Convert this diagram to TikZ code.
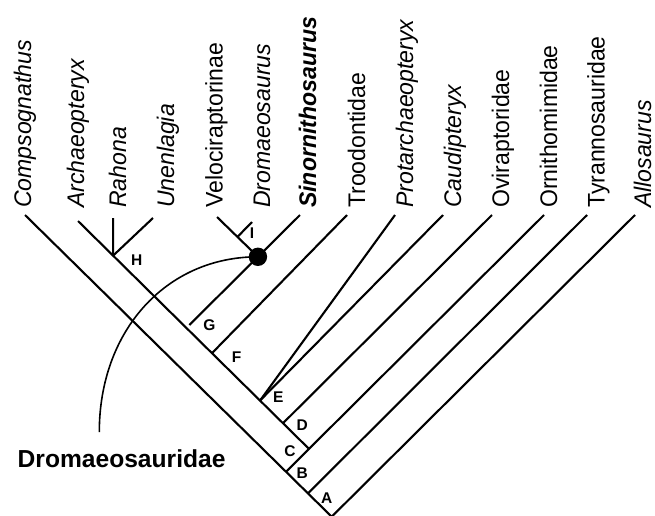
\documentclass[tikz,border=0pt]{standalone}
\usepackage{fontspec}
\setmainfont{Liberation Sans}
\usepackage{graphicx}
\usetikzlibrary{calc}
\newcommand\txlab[1]{\scalebox{0.96}[1]{#1}}
\tikzset{
  br/.style={line width=2.1pt},
  arcline/.style={line width=1.6pt},
  taxon/.style={rotate=90, anchor=base west, inner sep=0pt, font=\fontsize{24}{24}\selectfont},
  clade/.style={font=\bfseries\fontsize{15.5}{15.5}\selectfont, inner sep=0pt},
  group/.style={font=\bfseries\fontsize{24.6}{25}\selectfont, anchor=base west, inner sep=0pt},
}
\begin{document}
\begin{tikzpicture}[x=1pt,y=-1pt]
\useasboundingbox (0,0) rectangle (655,515);
% tips
\coordinate (R) at (331.7,516.7);
\coordinate (tComp) at (25,215);
\coordinate (tArch) at (78,221);
\coordinate (tRah) at (113.1,218);
\coordinate (tUnen) at (153,218);
\coordinate (tVel) at (217,217);
\coordinate (tDro) at (252,222);
\coordinate (tSino) at (300,215);
\coordinate (tTroo) at (347,215);
\coordinate (tProt) at (395,215);
\coordinate (tCaud) at (443,215);
\coordinate (tOvi) at (492,215);
\coordinate (tOrn) at (544,215);
\coordinate (tTyr) at (587,215);
\coordinate (tAllo) at (635,215);
% outer stem
\draw[br] (tComp) -- (R) -- (tAllo);
\coordinate (B) at ($(R)!0.0773!(tComp)$);
\coordinate (C) at ($(R)!0.149!(tComp)$);
\draw[br] (B) -- (tTyr);
\draw[br] (C) -- (tOrn);
% inner stem
\coordinate (K) at ($(C)!0.0891!(tOrn)$);
\draw[br] (K) -- (tArch);
\coordinate (D) at ($(K)!0.1126!(tArch)$);
\coordinate (E) at ($(K)!0.212!(tArch)$);
\coordinate (F) at ($(K)!0.42!(tArch)$);
\coordinate (H) at ($(K)!0.848!(tArch)$);
\draw[br] (D) -- (tOvi);
\draw[br] (E) -- (tCaud);
\draw[br] (E) -- (tProt);
\draw[br] (F) -- (tTroo);
\draw[br] (H) -- (tRah);
\draw[br] (H) -- (tUnen);
% Dromaeosauridae
\coordinate (Gs) at (189.3,325);
\draw[br] (Gs) -- (tSino);
\coordinate (O) at ($(Gs)!0.62!(tSino)$);
\draw[br] (O) -- (tVel);
\coordinate (I) at ($(O)!0.5!(tVel)$);
\draw[br] (I) -- (tDro);
\coordinate (arcend) at (99.3,432);
\draw[arcline] (O) .. controls ($(O)+(-92,0)$) and ($(arcend)+(0,-101)$) .. (arcend);
\fill (O) circle[radius=9.2];
% clade letters
\node[clade] (lA) at (326.7,498.3) {A};
\node[clade] (lB) at (302.3,472.7) {B};
\node[clade] (lC) at (290,450.7) {C};
\node[clade] (lD) at (302.3,425) {D};
\node[clade] (lE) at (278.3,396.7) {E};
\node[clade] (lF) at (236.7,356.7) {F};
\node[clade] (lG) at (209.3,325) {G};
\node[clade] (lH) at (136.7,260) {H};
\node[clade] (lI) at (252,233) {I};
% taxa
\node[taxon] (nComp) at (31,208) {\txlab{\itshape Compsognathus}};
\node[taxon] (nArch) at (84,208) {\txlab{\itshape Archaeopteryx}};
\node[taxon] (nRah) at (126,208) {\txlab{\itshape Rahona}};
\node[taxon] (nUnen) at (174,208) {\txlab{\itshape Unenlagia}};
\node[taxon] (nVel) at (222.5,208) {\txlab{Velociraptorinae}};
\node[taxon] (nDro) at (270,208) {\txlab{\itshape Dromaeosaurus}};
\node[taxon] (nSino) at (316,208) {\txlab{\bfseries\itshape Sinornithosaurus}};
\node[taxon] (nTroo) at (365,208) {\txlab{Troodontidae}};
\node[taxon] (nProt) at (413,208) {\txlab{\itshape Protarchaeopteryx}};
\node[taxon] (nCaud) at (461,208) {\txlab{\itshape Caudipteryx}};
\node[taxon] (nOvi) at (509,208) {\txlab{Oviraptoridae}};
\node[taxon] (nOrn) at (557,208) {\txlab{Ornithomimidae}};
\node[taxon] (nTyr) at (604.5,208) {\txlab{Tyrannosauridae}};
\node[taxon] (nAllo) at (651,208) {\txlab{\itshape Allosaurus}};
\node[group] (nGroup) at (17.5,467.5) {Dromaeosauridae};
\end{tikzpicture}
\end{document}
